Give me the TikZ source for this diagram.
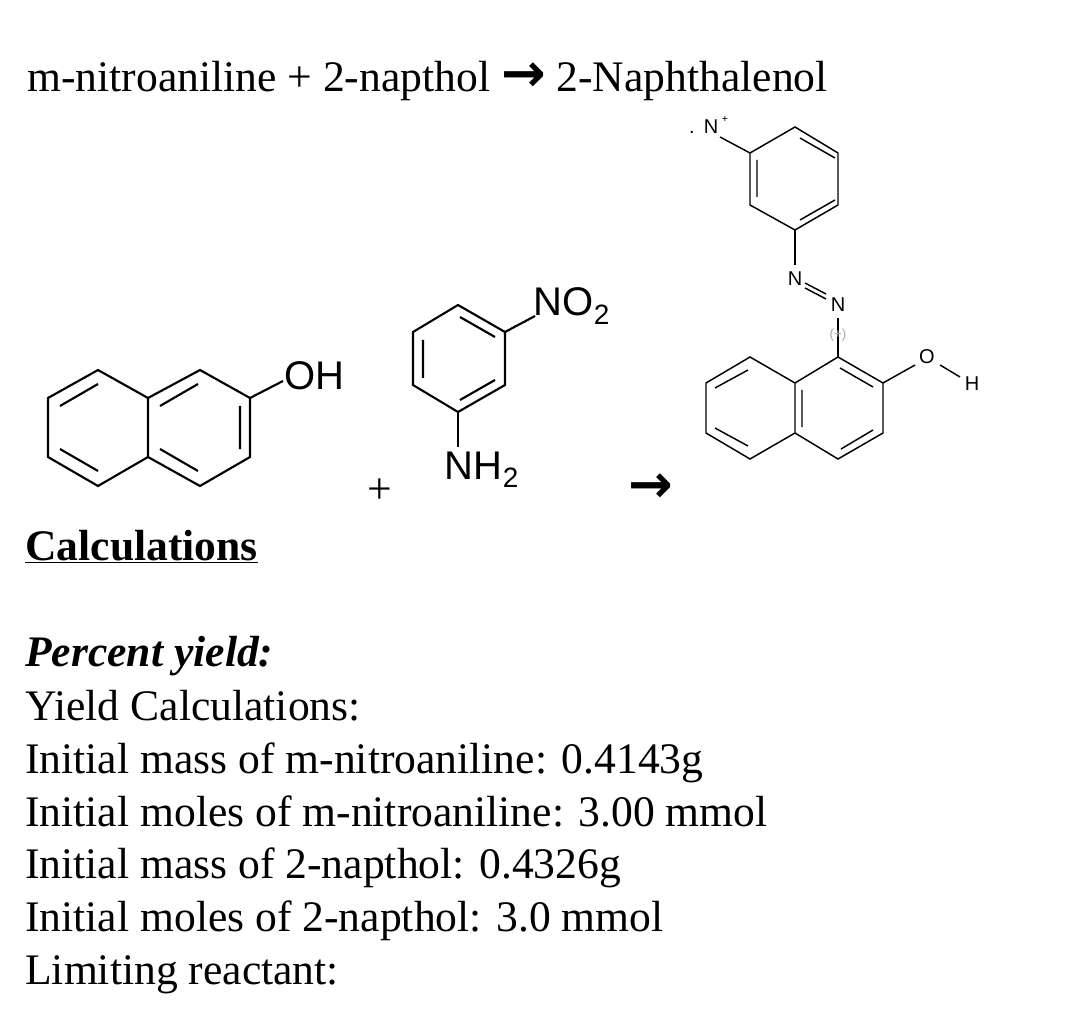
\documentclass[tikz,border=0pt]{standalone}
\usepackage{fontspec}
\setmainfont{Liberation Serif}
\newfontfamily\chemf{Liberation Sans}
\newfontfamily\symf{DejaVu Sans}
\begin{document}
\begin{tikzpicture}[x=0.75pt,y=-0.75pt,
  bd/.style={line width=1.6pt},
  thin/.style={line width=1.1pt},
  txt/.style={anchor=base west,inner sep=0pt,font=\fontsize{32.7}{38}\selectfont},
  lab/.style={inner sep=0pt,font=\chemf\fontsize{30}{34}\selectfont},
  slab/.style={inner sep=0pt,font=\chemf\fontsize{15}{17}\selectfont}]
\useasboundingbox (0,0) rectangle (1092,1012);
\node[txt] (title) at (27,92) {m-nitroaniline + 2-napthol {\symf\bfseries\fontsize{40}{40}\selectfont →} 2-Naphthalenol};
% 2-naphthol
\draw[bd] (48,398)--(98,370)--(148,398)--(148,457)--(98,486)--(48,457)--cycle;
\draw[bd] (148,398)--(200,370)--(250,398)--(250,457)--(200,486)--(148,457);
\draw[bd] (60,406)--(98,384) (60,449)--(98,471);
\draw[bd] (160,406)--(198,384) (160,449)--(198,471) (240,406)--(240,449);
\draw[bd] (250,398)--(283,381);
\node[lab] (oh) at (314,376) {OH};
% nitroaniline
\draw[bd] (458,305)--(505,332)--(505,385)--(458,412)--(413,385)--(413,332)--cycle;
\draw[bd] (460,317)--(495,337) (423,340)--(423,378) (460,400)--(495,380);
\draw[bd] (458,412)--(458,447);
\draw[bd] (505,332)--(535,316);
\node[lab] (nh2) at (482,470) {NH\textsubscript{2}};
\node[lab] (no2) at (572,306) {NO\textsubscript{2}};
\node[txt] (plus) at (367,503) {+};
\node[txt] (arr) at (628,502) {\symf\bfseries\fontsize{40}{40}\selectfont →};
% product
\draw[thin] (795,127)--(838,153)--(838,205)--(795,230)--(750,205)--(750,153)--cycle;
\draw[thin] (800,138)--(835,158) (757,160)--(757,197) (800,220)--(835,200);
\draw[thin] (750,153)--(720,137);
\node[slab] (np) at (711,127) {N};
\node[slab] at (725,119) {\fontsize{8}{9}\selectfont+};
\node[slab] at (692,132) {.};
\draw[thin] (795,230)--(795,265);
\node[slab] (n1) at (795,279) {N};
\draw[thin] (805,283)--(826,294) (805,288)--(826,299);
\node[slab] (n2) at (838,305) {N};
\draw[thin] (838,318)--(838,357);
\node[slab,text=gray!70,font=\chemf\fontsize{10}{11}\selectfont] at (838,335) {(+)};
\draw[thin] (838,357)--(883,383)--(883,433)--(838,459)--(795,433)--(795,383)--cycle;
\draw[thin] (795,383)--(750,357)--(706,383)--(706,433)--(750,459)--(795,433);
\draw[thin] (840,368)--(873,387) (841,449)--(873,430) (802,390)--(802,427);
\draw[thin] (715,388)--(748,370) (715,428)--(748,446);
\draw[thin] (883,383)--(915,365);
\node[slab] (o) at (927,357) {O};
\draw[thin] (940,365)--(960,377);
\node[slab] (h) at (972,384) {H};
% text
\node[txt] (calc) at (25,560) {\textbf{\underline{Calculations}}};
\node[txt] at (25,666) {\textbf{\textit{Percent yield:}}};
\node[txt] at (25,720) {Yield Calculations:};
\node[txt] at (25,773) {Initial mass of m-nitroaniline: 0.4143g};
\node[txt] at (25,826) {Initial moles of m-nitroaniline: 3.00 mmol};
\node[txt] at (25,878) {Initial mass of 2-napthol: 0.4326g};
\node[txt] at (25,931) {Initial moles of 2-napthol: 3.0 mmol};
\node[txt] at (25,984) {Limiting reactant:};
\end{tikzpicture}
\end{document}
